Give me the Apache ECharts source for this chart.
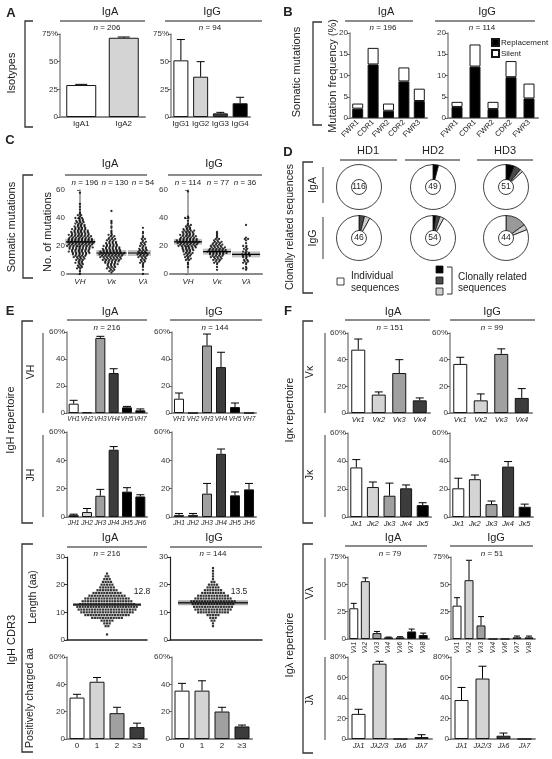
<!DOCTYPE html>
<html><head><meta charset="utf-8">
<script src="https://cdn.jsdelivr.net/npm/echarts@6/dist/echarts.min.js"></script>
<style>html,body{margin:0;padding:0;background:#fff}#c{width:552px;height:759px}</style>
</head><body><div id="c"></div>
<script>
// ================= DATA =================
// A: isotypes (% of sequences, mean, upper SEM)
const isoA_cats = ['IgA1','IgA2'];
const isoA_vals = [28.9, 71.6];
const isoA_err  = [0.6, 0.7];
const isoG_cats = ['IgG1','IgG2','IgG3','IgG4'];
const isoG_vals = [51.2, 36.4, 3.3, 12.4];
const isoG_err  = [18.8, 13.6, 0.9, 5.4];
// B: mutation frequency by region (replacement + silent)
const region_cats = ['FWR1','CDR1','FWR2','CDR2','FWR3'];
const repA = [2.2, 12.6, 1.7, 8.6, 4.0];
const silA = [1.2, 3.9, 1.7, 3.3, 2.9];
const repG = [2.6, 12.1, 2.1, 9.6, 4.6];
const silG = [1.2, 5.2, 1.7, 3.8, 3.5];
// C: number of mutations per sequence, [value, count]
const mutGroups = ['VH','Vκ','Vλ'];
const mutA_VH = [[0,1],[2,1],[4,2],[5,2],[6,2],[7,2],[8,3],[9,2],[10,3],[11,3],[12,4],[13,4],[14,5],[15,6],[16,7],[17,6],[18,7],[19,8],[20,8],[21,8],[22,9],[23,9],[24,9],[25,8],[26,7],[27,7],[28,7],[29,6],[30,6],[31,5],[32,5],[33,4],[34,4],[35,3],[36,3],[37,3],[38,3],[39,2],[40,3],[41,1],[42,2],[43,1],[44,1],[46,1],[48,1],[50,1],[58,1]];
const mutA_Vk = [[1,1],[2,2],[3,2],[4,3],[5,3],[6,3],[7,4],[8,4],[9,5],[10,6],[11,6],[12,7],[13,7],[14,8],[15,8],[16,7],[17,6],[18,6],[19,5],[20,5],[21,4],[22,4],[23,3],[24,3],[25,3],[26,2],[27,2],[28,2],[29,1],[30,1],[31,1],[33,1],[34,1],[36,1],[37,1],[38,1],[45,1]];
const mutA_Vl = [[0,1],[3,1],[5,1],[6,1],[7,1],[8,2],[9,2],[10,2],[11,2],[12,3],[13,3],[14,4],[15,4],[16,3],[17,3],[18,3],[19,2],[20,2],[21,2],[22,2],[23,2],[24,1],[25,2],[26,1],[27,1],[29,1],[30,1],[33,1]];
const mutG_VH = [[5,1],[7,1],[8,1],[10,2],[11,2],[12,2],[13,2],[14,3],[15,3],[16,3],[17,4],[18,4],[19,5],[20,6],[21,6],[22,7],[23,7],[24,7],[25,6],[26,5],[27,5],[28,5],[29,4],[30,4],[31,4],[32,3],[33,2],[34,2],[35,2],[36,1],[38,1],[40,2],[41,1],[59,1]];
const mutG_Vk = [[3,1],[5,1],[7,1],[8,2],[9,2],[10,3],[11,3],[12,4],[13,4],[14,5],[15,6],[16,6],[17,6],[18,5],[19,5],[20,4],[21,4],[22,3],[23,3],[24,2],[25,2],[26,1],[27,1],[28,1],[29,1],[30,1]];
const mutG_Vl = [[3,1],[4,2],[5,1],[7,1],[8,2],[9,2],[10,2],[11,1],[12,2],[13,3],[14,3],[15,2],[16,2],[17,1],[18,2],[19,1],[20,2],[22,1],[24,1],[25,2],[26,1],[35,1]];
const mutMedA = [23, 15, 15];
const mutMedG = [23, 16, 14];
const mutN_A = [196, 130, 54];
const mutN_G = [114, 77, 36];
// D: clonally related sequences (% of sequences: black, dark grey, mid grey, light grey)
const donors = ['HD1','HD2','HD3'];
const cloneA = [[0,0,0,0],[4,0,0,0],[6,5,0,2]];
const cloneG = [[0,4,0,4],[2,3,0,3],[0,0,15,4]];
const seqN_A = [116, 49, 51];
const seqN_G = [46, 54, 44];
// E: IgH repertoire
const vh_cats = ['VH1','VH2','VH3','VH4','VH5','VH7'];
const vhA = [6.9, 0.5, 55.6, 29.6, 4.2, 2.0];
const vhA_err = [2.5, 0, 1.2, 3.2, 0.7, 1.0];
const vhG = [10.6, 0, 50.0, 34.0, 4.4, 0];
const vhG_err = [4.2, 0, 8.5, 11.0, 3.0, 0];
const jh_cats = ['JH1','JH2','JH3','JH4','JH5','JH6'];
const jhA = [1.5, 3.5, 15.0, 47.5, 17.9, 14.5];
const jhA_err = [0.5, 2.5, 4.5, 2.2, 2.8, 1.2];
const jhG = [1.5, 1.5, 16.5, 44.6, 15.3, 19.5];
const jhG_err = [1.0, 1.0, 7.2, 3.4, 2.4, 4.2];
// E: CDR3 length (aa), [length, count]
const cdrA = [[2,1],[5,2],[6,3],[7,5],[8,12],[9,17],[10,20],[11,22],[12,23],[13,21],[14,19],[15,17],[16,14],[17,11],[18,8],[19,6],[20,5],[21,4],[22,3],[23,2],[24,1]];
const cdrG = [[5,1],[6,1],[7,2],[8,3],[9,5],[10,12],[11,14],[12,15],[13,16],[14,17],[15,14],[16,12],[17,9],[18,7],[19,5],[20,4],[21,2],[22,1],[23,1],[24,1],[25,1],[26,1]];
const cdrMean = [12.8, 13.5];
const pos_cats = ['0','1','2','≥3'];
const posA = [30.3, 41.9, 18.9, 8.7];
const posA_err = [2.4, 3.1, 4.3, 2.9];
const posG = [35.4, 35.4, 20.1, 9.2];
const posG_err = [5.3, 7.2, 3.1, 1.0];
// F: Igκ / Igλ repertoire
const vk_cats = ['Vκ1','Vκ2','Vκ3','Vκ4'];
const vkA = [47.5, 13.8, 30.0, 9.5];
const vkA_err = [8.0, 2.0, 10.0, 1.8];
const vkG = [36.8, 9.5, 44.3, 11.3];
const vkG_err = [5.0, 4.8, 3.8, 7.0];
const jk_cats = ['Jκ1','Jκ2','Jκ3','Jκ4','Jκ5'];
const jkA = [35.4, 21.4, 15.2, 20.5, 8.5];
const jkA_err = [5.6, 3.6, 9.0, 2.4, 1.7];
const jkG = [20.5, 27.0, 9.2, 36.0, 7.3];
const jkG_err = [7.2, 3.0, 2.2, 3.6, 1.9];
const vl_cats = ['Vλ1','Vλ2','Vλ3','Vλ4','Vλ6','Vλ7','Vλ8'];
const vlA = [28.1, 52.9, 5.4, 1.5, 1.5, 6.9, 3.6];
const vlA_err = [4.5, 3.0, 1.5, 0.3, 0.6, 2.2, 1.8];
const vlG = [30.5, 53.8, 12.4, 0, 0, 1.5, 1.5];
const vlG_err = [7.3, 18.2, 8.1, 0, 0, 1.2, 1.2];
const jl_cats = ['Jλ1','Jλ2/3','Jλ6','Jλ7'];
const jlA = [24.5, 73.5, 0, 1.9];
const jlA_err = [4.5, 2.3, 0, 2.3];
const jlG = [38.0, 59.0, 3.2, 0];
const jlG_err = [12.3, 12.0, 2.6, 0];

// ================= STYLE / LAYOUT =================
const FONT = "'Liberation Sans', Arial, Helvetica, sans-serif";
const W='#ffffff', L='#d4d4d4', M='#a0a0a0', D='#3c3c3c', K='#000000';
const AX='#8a8a8a';
const grids=[], xAxes=[], yAxes=[], series=[], G=[];

function addGrid(p){ grids.push({left:p.left, top:p.top, width:p.width, height:p.height}); return grids.length-1; }
function yAx(gi, max, interval, pct){
  return {gridIndex:gi, type:'value', min:0, max:max, interval:interval,
    axisLine:{show:true, lineStyle:{color:AX, width:1.5}},
    axisTick:{show:true, length:3, lineStyle:{color:'#666', width:1}},
    splitLine:{show:false},
    axisLabel:{fontSize:8, color:'#333', margin:2, fontFamily:FONT,
      formatter:function(v){ return (pct && v===max) ? v+'%' : String(v); }}};
}
function errRender(cap){
  return function(params, api){
    const v=api.value(1), t=api.value(2);
    if(!(t>v)) return;
    const a=api.coord([api.value(0), v]), b=api.coord([api.value(0), t]);
    return {type:'group', children:[
      {type:'line', shape:{x1:a[0],y1:a[1],x2:b[0],y2:b[1]}, style:{stroke:'#000',lineWidth:1}},
      {type:'line', shape:{x1:b[0]-cap,y1:b[1],x2:b[0]+cap,y2:b[1]}, style:{stroke:'#000',lineWidth:1}}]};
  };
}
function barPanel(p){
  const gi=addGrid(p);
  xAxes.push({gridIndex:gi, type:'category', data:p.cats,
    axisLine:{lineStyle:{color:AX, width:2}}, axisTick:{show:false},
    axisLabel:{fontSize:p.fs||7, color:'#222', fontStyle:p.italic?'italic':'normal', margin:p.margin||3,
      rotate:p.rotate||0, interval:0, fontFamily:FONT}});
  yAxes.push(yAx(gi, p.max, p.interval, p.pct));
  series.push({type:'bar', xAxisIndex:gi, yAxisIndex:gi, barWidth:p.bw,
    itemStyle:{borderColor:'#151515', borderWidth:1},
    data:p.vals.map(function(v,i){ return {value:v, itemStyle:{color:p.colors[i]}}; })});
  series.push({type:'custom', xAxisIndex:gi, yAxisIndex:gi, z:5, renderItem:errRender(p.cap||4),
    data:p.vals.map(function(v,i){ return [i, v, v+p.errs[i]]; })});
}
function stackPanel(p){
  const gi=addGrid(p);
  xAxes.push({gridIndex:gi, type:'category', data:p.cats,
    axisLine:{lineStyle:{color:AX, width:2}}, axisTick:{show:false},
    axisLabel:{fontSize:7.5, color:'#222', margin:3, rotate:45, interval:0, fontFamily:FONT}});
  yAxes.push(yAx(gi, 20, 5, false));
  series.push({name:'Replacement', type:'bar', stack:'s'+gi, xAxisIndex:gi, yAxisIndex:gi, barWidth:p.bw,
    itemStyle:{color:K, borderColor:'#151515', borderWidth:1}, data:p.rep});
  series.push({name:'Silent', type:'bar', stack:'s'+gi, xAxisIndex:gi, yAxisIndex:gi, barWidth:p.bw,
    itemStyle:{color:W, borderColor:'#151515', borderWidth:1}, data:p.sil});
}
// layout of dots: each row of equal values spread sideways (positions only, values untouched)
function swarm(pairs, center, sp, pxUnit, stagger){
  const pts=[];
  pairs.forEach(function(pc){
    const v=pc[0], c=pc[1];
    const sh=stagger ? [0,0.5,0.25,0.75][v%4]-0.375 : 0;
    for(let k=0;k<c;k++){ pts.push([center + (k-(c-1)/2+(c>1?sh:0))*sp/pxUnit, v]); }
  });
  return pts;
}
function dotPanel(p){
  const gi=addGrid(p);
  xAxes.push({gridIndex:gi, type:'value', min:p.xmin, max:p.xmax,
    axisLine:{show:true, lineStyle:{color:AX, width:2}}, axisTick:{show:false}, splitLine:{show:false},
    axisLabel:{customValues:[0,1,2], formatter:function(v){ return mutGroups[Math.round(v)]; },
      fontSize:8, fontStyle:'italic', color:'#222', margin:4, fontFamily:FONT}});
  yAxes.push(yAx(gi, 60, 20, false));
  const hw=p.hw/p.pxUnit;
  p.groups.forEach(function(grp, g){
    const m=p.meds[g];
    series.push({type:'line', xAxisIndex:gi, yAxisIndex:gi, symbol:'none', silent:true, z:1,
      lineStyle:{color:'#c4c4c4', width:6}, data:[[g-hw, m],[g+hw, m]]});
    series.push({type:'scatter', xAxisIndex:gi, yAxisIndex:gi, symbolSize:2.3, silent:true, z:2,
      itemStyle:{color:'#000'}, data:swarm(grp, g, 3.3, p.pxUnit, true)});
    series.push({type:'line', xAxisIndex:gi, yAxisIndex:gi, symbol:'none', silent:true, z:3,
      lineStyle:{color:'#000', width:1.2}, data:[[g-hw, m],[g+hw, m]]});
  });
}
function lenPanel(p){
  const gi=addGrid(p);
  xAxes.push({gridIndex:gi, type:'value', min:0, max:p.width, show:true,
    axisLine:{show:true, lineStyle:{color:'#222', width:1.5}}, axisTick:{show:false}, splitLine:{show:false},
    axisLabel:{show:false}});
  yAxes.push({gridIndex:gi, type:'value', min:0, max:30, interval:10,
    axisLine:{show:true, lineStyle:{color:'#222', width:1.2}},
    axisTick:{show:true, length:3, lineStyle:{color:'#333'}}, splitLine:{show:false},
    axisLabel:{fontSize:8, color:'#333', margin:2, fontFamily:FONT}});
  if(p.band){
    series.push({type:'line', xAxisIndex:gi, yAxisIndex:gi, symbol:'none', silent:true, z:1,
      lineStyle:{color:'#aaaaaa', width:5}, data:[[p.cx-p.hw, p.mean],[p.cx+p.hw, p.mean]]});
  }
  series.push({type:'scatter', xAxisIndex:gi, yAxisIndex:gi, symbol:'rect', symbolSize:2.2, silent:true, z:2,
    itemStyle:{color:'#000'}, data:swarm(p.data, p.cx, 2.7, 1, false)});
  series.push({type:'line', xAxisIndex:gi, yAxisIndex:gi, symbol:'none', silent:true, z:3,
    lineStyle:{color:'#222', width:p.band?1.5:2.2}, data:[[p.cx-p.hw, p.mean],[p.cx+p.hw, p.mean]]});
}
function pie(cx, cy, arr, n){
  const cols=[K,'#4a4a4a','#999999','#cfcfcf'];
  const data=[]; let s=0;
  arr.forEach(function(v,i){ if(v>0){ data.push({value:v, itemStyle:{color:cols[i]}}); s+=v; } });
  data.push({value:100-s, itemStyle:{color:W}});
  series.push({type:'pie', center:[cx,cy], radius:[7.5,22.5], startAngle:90, clockwise:true, silent:true,
    label:{show:false}, labelLine:{show:false}, itemStyle:{borderColor:'#111', borderWidth:0.8}, data:data});
  txt(cx, cy, String(n), {size:8.5});
}

// graphic helpers
function txt(x,y,t,o){ o=o||{};
  G.push({type:'text', x:x, y:y, rotation:o.rot?Math.PI/2:0, silent:true, z:100,
    style:{text:t, fill:o.color||'#222', fontSize:o.size||10, fontFamily:FONT, fontWeight:o.bold?'bold':'normal',
      fontStyle:o.italic?'italic':'normal', align:o.align||'center', verticalAlign:'middle', rich:o.rich}}); }
function nTxt(x,y,n){ txt(x,y,'{i|n} = '+n,{size:8, rich:{i:{fontStyle:'italic', fontSize:8, fontFamily:FONT}}}); }
function hl(x1,x2,y){ G.push({type:'line', silent:true, shape:{x1:x1,y1:y,x2:x2,y2:y}, style:{stroke:'#666', lineWidth:1.3}}); }
function vl(x,y1,y2){ G.push({type:'line', silent:true, shape:{x1:x,y1:y1,x2:x,y2:y2}, style:{stroke:'#666', lineWidth:1.3}}); }
function bracket(x,y1,y2,dx){ G.push({type:'polyline', silent:true, shape:{points:[[x+dx,y1],[x,y1],[x,y2],[x+dx,y2]]}, style:{stroke:'#333', lineWidth:1.3, fill:null}}); }
function sq(x,y,c){ G.push({type:'rect', silent:true, shape:{x:x,y:y,width:7,height:7}, style:{fill:c, stroke:'#111', lineWidth:0.8}}); }

// ================= PANEL A =================
barPanel({left:60, top:34, width:85, height:83, cats:isoA_cats, vals:isoA_vals, errs:isoA_err, colors:[W,L], max:75, interval:25, pct:true, bw:30, fs:8, cap:6});
barPanel({left:171, top:34, width:79, height:83, cats:isoG_cats, vals:isoG_vals, errs:isoG_err, colors:[W,L,D,K], max:75, interval:25, pct:true, bw:15, fs:8, cap:4});
txt(11,13,'A',{bold:true,size:13});
txt(110,12,'IgA',{size:11}); hl(60,145,21);
txt(212,12,'IgG',{size:11}); hl(165,262,21);
nTxt(107,28,206); nTxt(210,28,94);
txt(12,73,'Isotypes',{rot:true,size:11});
bracket(25,21,127,8);

// ================= PANEL B =================
stackPanel({left:350, top:33, width:77, height:85, cats:region_cats, rep:repA, sil:silA, bw:11});
stackPanel({left:448, top:33, width:90, height:85, cats:region_cats, rep:repG, sil:silG, bw:11});
txt(288,12,'B',{bold:true,size:13});
txt(386,12,'IgA',{size:11}); hl(345,413,21);
txt(487,12,'IgG',{size:11}); hl(435,535,21);
nTxt(383,28,196); nTxt(482,28,114);
txt(297,72,'Somatic mutations',{rot:true,size:11});
txt(333,76,'Mutation frequency (%)',{rot:true,size:11});
bracket(313,22,125,9);

// ================= PANEL C =================
dotPanel({left:67, top:190, width:81, height:84, xmin:-0.41, xmax:2.16, pxUnit:31.5, hw:15, groups:[mutA_VH,mutA_Vk,mutA_Vl], meds:mutMedA});
dotPanel({left:170, top:190, width:92, height:84, xmin:-0.62, xmax:2.55, pxUnit:29, hw:14, groups:[mutG_VH,mutG_Vk,mutG_Vl], meds:mutMedG});
txt(10,140,'C',{bold:true,size:13});
txt(110,164,'IgA',{size:11}); hl(65,147,175);
txt(214,164,'IgG',{size:11}); hl(168,262,175);
[85,115,143].forEach(function(x,i){ nTxt(x,183,mutN_A[i]); });
[188,218,245].forEach(function(x,i){ nTxt(x,183,mutN_G[i]); });
txt(12,227,'Somatic mutations',{rot:true,size:11});
txt(48,232,'No. of mutations',{rot:true,size:11});
bracket(23,175,278,10);

// ================= PANEL D =================
const pieX=[359,433,506];
pieX.forEach(function(x,i){ pie(x,187,cloneA[i],seqN_A[i]); pie(x,238,cloneG[i],seqN_G[i]); });
txt(288,152,'D',{bold:true,size:13});
txt(368,151,donors[0],{size:11}); hl(340,397,160);
txt(433,151,donors[1],{size:11}); hl(405,460,160);
txt(505,151,donors[2],{size:11}); hl(477,533,160);
txt(290,227,'Clonally related sequences',{rot:true,size:10.5});
bracket(303,162,293,10);
txt(313,185,'IgA',{rot:true,size:10.5}); vl(323,167,203);
txt(313,238,'IgG',{rot:true,size:10.5}); vl(323,217,259);
sq(337,278,W); txt(351,276,'Individual',{align:'left',size:10}); txt(351,288,'sequences',{align:'left',size:10});
sq(436,266,K); sq(436,277,'#4a4a4a'); sq(436,288,'#cfcfcf');
G.push({type:'polyline', silent:true, shape:{points:[[447,267],[452,267],[452,294],[447,294]]}, style:{stroke:'#333',lineWidth:1,fill:null}});
txt(458,277,'Clonally related',{align:'left',size:10}); txt(458,288,'sequences',{align:'left',size:10});

// ================= PANEL E =================
barPanel({left:67, top:332, width:80, height:81, cats:vh_cats, vals:vhA, errs:vhA_err, colors:[W,L,M,D,K,K], max:60, interval:20, pct:true, bw:10, italic:true, fs:6.5});
barPanel({left:172, top:332, width:84, height:81, cats:vh_cats, vals:vhG, errs:vhG_err, colors:[W,L,M,D,K,K], max:60, interval:20, pct:true, bw:10, italic:true, fs:6.5});
barPanel({left:67, top:432, width:80, height:85, cats:jh_cats, vals:jhA, errs:jhA_err, colors:[W,L,M,D,K,K], max:60, interval:20, pct:true, bw:10, italic:true, fs:6.5});
barPanel({left:172, top:432, width:84, height:85, cats:jh_cats, vals:jhG, errs:jhG_err, colors:[W,L,M,D,K,K], max:60, interval:20, pct:true, bw:10, italic:true, fs:6.5});
lenPanel({left:67, top:557, width:80, height:83, data:cdrA, cx:40, hw:34, mean:cdrMean[0], band:false});
lenPanel({left:170, top:557, width:92, height:83, data:cdrG, cx:43, hw:35, mean:cdrMean[1], band:true});
barPanel({left:67, top:657, width:80, height:82, cats:pos_cats, vals:posA, errs:posA_err, colors:[W,L,M,D], max:60, interval:20, pct:true, bw:15, fs:8});
barPanel({left:172, top:657, width:80, height:82, cats:pos_cats, vals:posG, errs:posG_err, colors:[W,L,M,D], max:60, interval:20, pct:true, bw:15, fs:8});
txt(10,311,'E',{bold:true,size:13});
txt(110,312,'IgA',{size:11}); hl(67,147,320);
txt(214,312,'IgG',{size:11}); hl(170,262,320);
nTxt(107,328,216); nTxt(215,328,144);
txt(11,420,'IgH repertoire',{rot:true,size:11});
bracket(22,321,523,11);
txt(31,372,'VH',{rot:true,size:10.5}); vl(43,333,413);
txt(31,475,'JH',{rot:true,size:10.5}); vl(43,435,517);
txt(110,538,'IgA',{size:11}); hl(67,147,547);
txt(214,538,'IgG',{size:11}); hl(170,262,547);
nTxt(107,554,216); nTxt(213,554,144);
txt(12,640,'IgH CDR3',{rot:true,size:11});
bracket(22,544,752,11);
txt(33,597,'Length (aa)',{rot:true,size:10.5});
txt(30,698,'Positively charged aa',{rot:true,size:10.5});
txt(142,592,cdrMean[0].toFixed(1),{size:8.5});
txt(239,592,cdrMean[1].toFixed(1),{size:8.5});

// ================= PANEL F =================
barPanel({left:348, top:333, width:82, height:80, cats:vk_cats, vals:vkA, errs:vkA_err, colors:[W,L,M,D], max:60, interval:20, pct:true, bw:14, italic:true, fs:7.5});
barPanel({left:450, top:333, width:82, height:80, cats:vk_cats, vals:vkG, errs:vkG_err, colors:[W,L,M,D], max:60, interval:20, pct:true, bw:14, italic:true, fs:7.5});
barPanel({left:348, top:433, width:83, height:84, cats:jk_cats, vals:jkA, errs:jkA_err, colors:[W,L,M,D,K], max:60, interval:20, pct:true, bw:12, italic:true, fs:7.5});
barPanel({left:450, top:433, width:83, height:84, cats:jk_cats, vals:jkG, errs:jkG_err, colors:[W,L,M,D,K], max:60, interval:20, pct:true, bw:12, italic:true, fs:7.5});
barPanel({left:348, top:557, width:81, height:82, cats:vl_cats, vals:vlA, errs:vlA_err, colors:[W,L,M,D,D,K,K], max:75, interval:25, pct:true, bw:9, italic:true, fs:6.5, rotate:90, cap:3});
barPanel({left:451, top:557, width:84, height:82, cats:vl_cats, vals:vlG, errs:vlG_err, colors:[W,L,M,D,D,K,K], max:75, interval:25, pct:true, bw:9, italic:true, fs:6.5, rotate:90, cap:3});
barPanel({left:348, top:657, width:84, height:82, cats:jl_cats, vals:jlA, errs:jlA_err, colors:[W,L,D,K], max:80, interval:20, pct:true, bw:14, italic:true, fs:7.5});
barPanel({left:451, top:657, width:84, height:82, cats:jl_cats, vals:jlG, errs:jlG_err, colors:[W,L,D,K], max:80, interval:20, pct:true, bw:14, italic:true, fs:7.5});
txt(288,311,'F',{bold:true,size:13});
txt(393,312,'IgA',{size:11}); hl(345,430,320);
txt(492,312,'IgG',{size:11}); hl(450,535,320);
nTxt(390,328,151); nTxt(492,328,99);
txt(290,410,'Igκ repertoire',{rot:true,size:11});
bracket(303,321,523,10);
txt(310,372,'Vκ',{rot:true,size:10.5}); vl(325,333,413);
txt(310,475,'Jκ',{rot:true,size:10.5}); vl(325,435,517);
txt(393,538,'IgA',{size:11}); hl(345,427,546);
txt(496,538,'IgG',{size:11}); hl(450,533,546);
nTxt(390,554,79); nTxt(492,554,51);
txt(290,645,'Igλ repertoire',{rot:true,size:11});
bracket(303,544,753,10);
txt(310,593,'Vλ',{rot:true,size:10.5}); vl(325,558,640);
txt(310,700,'Jλ',{rot:true,size:10.5}); vl(325,657,740);

// ================= RENDER =================
const chart = echarts.init(document.getElementById('c'), null, {renderer:'canvas'});
chart.setOption({
  animation:false,
  backgroundColor:'#fff',
  textStyle:{fontFamily:FONT},
  legend:{data:['Replacement','Silent'], left:491, top:38, orient:'vertical', itemWidth:7, itemHeight:7, itemGap:2,
    padding:0, icon:'rect', selectedMode:false, textStyle:{fontSize:8, color:'#222', fontFamily:FONT, padding:[0,0,0,-3]}},
  grid:grids, xAxis:xAxes, yAxis:yAxes, series:series, graphic:G
});
</script></body></html>
